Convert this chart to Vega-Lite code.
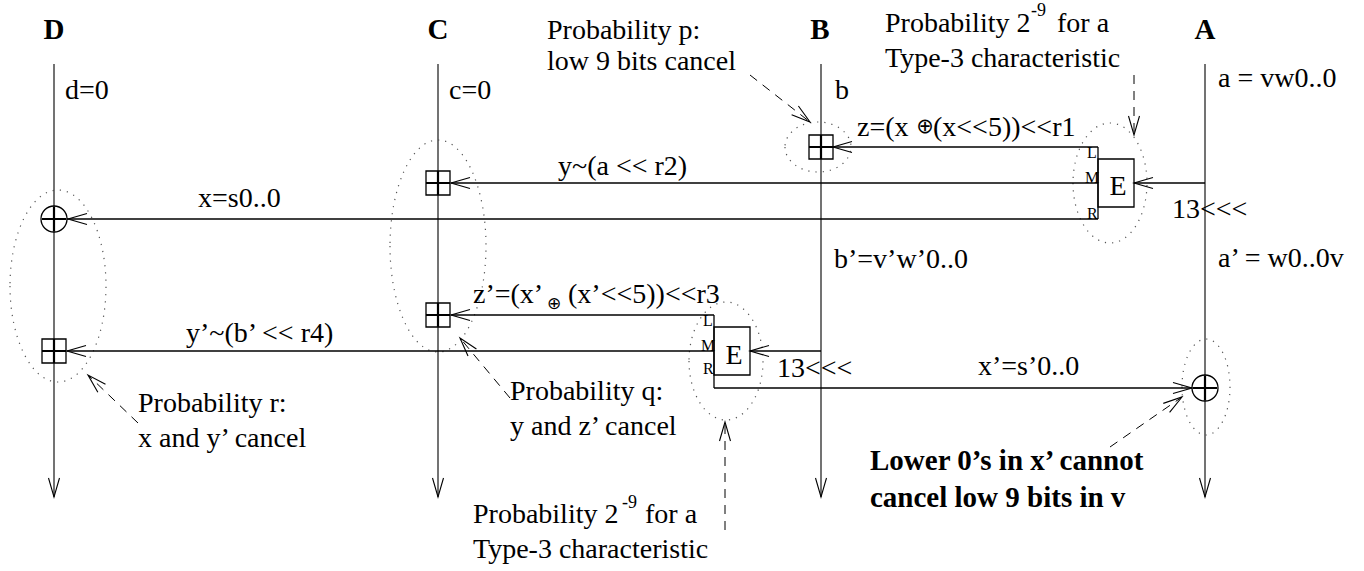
{
  "$schema": "https://vega.github.io/schema/vega-lite/v6.json",
  "width": 1364,
  "height": 571,
  "padding": 0,
  "autosize": {"type": "fit", "contains": "padding"},
  "background": "white",
  "config": {"view": {"stroke": null}},
  "resolve": {"scale": {"shape": "independent", "size": "independent", "angle": "independent"}},
  "datasets": {
    "columns": [
      {"col": "D", "x": 54, "y": 64, "y2": 497},
      {"col": "C", "x": 438, "y": 64, "y2": 497},
      {"col": "B", "x": 821, "y": 64, "y2": 497},
      {"col": "A", "x": 1205, "y": 64, "y2": 497}
    ],
    "wires": [
      {"id": "z", "x": 1098, "y": 147, "x2": 833, "y2": 147},
      {"id": "y", "x": 1098, "y": 183, "x2": 451, "y2": 183},
      {"id": "x", "x": 1098, "y": 219, "x2": 67, "y2": 219},
      {"id": "E1 side", "x": 1098, "y": 147, "x2": 1098, "y2": 219},
      {"id": "a in", "x": 1205, "y": 183, "x2": 1134, "y2": 183},
      {"id": "z'", "x": 714, "y": 315, "x2": 451, "y2": 315},
      {"id": "y'", "x": 714, "y": 351, "x2": 67, "y2": 351},
      {"id": "E2 side", "x": 714, "y": 315, "x2": 714, "y2": 388},
      {"id": "x'", "x": 714, "y": 388, "x2": 1192, "y2": 388},
      {"id": "b' in", "x": 821, "y": 351, "x2": 750, "y2": 351}
    ],
    "boxes": [
      {"box": "E upper", "x": 1098, "x2": 1134, "y": 159, "y2": 207},
      {"box": "E lower", "x": 714, "x2": 750, "y": 327, "y2": 375}
    ],
    "dashes": [
      {"note": "p", "x": 750, "y": 75, "x2": 810, "y2": 122},
      {"note": "2^-9 upper", "x": 1134, "y": 75, "x2": 1134, "y2": 135},
      {"note": "r", "x": 138, "y": 423, "x2": 88, "y2": 375},
      {"note": "q", "x": 510, "y": 398, "x2": 460, "y2": 338},
      {"note": "2^-9 lower", "x": 725, "y": 530, "x2": 725, "y2": 422},
      {"note": "lower 0s", "x": 1110, "y": 447, "x2": 1182, "y2": 397}
    ],
    "heads": [
      {"x": 833, "y": 147, "angle": 180},
      {"x": 451, "y": 183, "angle": 180},
      {"x": 68, "y": 219, "angle": 180},
      {"x": 1134, "y": 183, "angle": 180},
      {"x": 451, "y": 315, "angle": 180},
      {"x": 67, "y": 351, "angle": 180},
      {"x": 1192, "y": 388, "angle": 0},
      {"x": 750, "y": 351, "angle": 180},
      {"x": 54, "y": 497, "angle": 90},
      {"x": 438, "y": 497, "angle": 90},
      {"x": 821, "y": 497, "angle": 90},
      {"x": 1205, "y": 497, "angle": 90},
      {"x": 810, "y": 122, "angle": 38},
      {"x": 1134, "y": 135, "angle": 90},
      {"x": 88, "y": 375, "angle": 224},
      {"x": 460, "y": 338, "angle": 230},
      {"x": 725, "y": 422, "angle": 270},
      {"x": 1182, "y": 397, "angle": 325}
    ],
    "adders": [
      {"op": "add", "x": 821, "y": 147},
      {"op": "add", "x": 438, "y": 183},
      {"op": "add", "x": 438, "y": 315},
      {"op": "add", "x": 54, "y": 351},
      {"op": "xor", "x": 54, "y": 219},
      {"op": "xor", "x": 1205, "y": 388}
    ],
    "ellipses": [
      {"e": "eB", "x": 818, "y": 147},
      {"e": "eE1", "x": 1110, "y": 183},
      {"e": "eC", "x": 438, "y": 246},
      {"e": "eD", "x": 58, "y": 286},
      {"e": "eE2", "x": 726, "y": 361},
      {"e": "eA", "x": 1206, "y": 387}
    ],
    "labels": [
      {"x": 65, "y": 99, "t": "d=0"},
      {"x": 449, "y": 99, "t": "c=0"},
      {"x": 835, "y": 99, "t": "b"},
      {"x": 1218, "y": 87, "t": "a = vw0..0"},
      {"x": 547, "y": 39, "t": "Probability p:"},
      {"x": 547, "y": 70, "t": "low 9 bits cancel"},
      {"x": 885, "y": 32, "t": "Probability 2"},
      {"x": 1057, "y": 32, "t": "for a"},
      {"x": 885, "y": 67, "t": "Type-3 characteristic"},
      {"x": 857, "y": 136, "t": "z=(x"},
      {"x": 933, "y": 136, "t": "(x<<5))<<r1"},
      {"x": 558, "y": 175, "t": "y~(a << r2)"},
      {"x": 198, "y": 207, "t": "x=s0..0"},
      {"x": 1172, "y": 218, "t": "13<<<"},
      {"x": 1218, "y": 267, "t": "a’ = w0..0v"},
      {"x": 834, "y": 268, "t": "b’=v’w’0..0"},
      {"x": 473, "y": 303, "t": "z’=(x’"},
      {"x": 568, "y": 303, "t": "(x’<<5))<<r3"},
      {"x": 186, "y": 342, "t": "y’~(b’ << r4)"},
      {"x": 777, "y": 377, "t": "13<<<"},
      {"x": 978, "y": 375, "t": "x’=s’0..0"},
      {"x": 138, "y": 412, "t": "Probability r:"},
      {"x": 138, "y": 447, "t": "x and y’ cancel"},
      {"x": 510, "y": 400, "t": "Probability q:"},
      {"x": 510, "y": 435, "t": "y and z’ cancel"},
      {"x": 473, "y": 523, "t": "Probability 2"},
      {"x": 645, "y": 523, "t": "for a"},
      {"x": 473, "y": 558, "t": "Type-3 characteristic"}
    ],
    "boldnotes": [
      {"x": 870, "y": 470, "t": "Lower 0’s in x’ cannot"},
      {"x": 870, "y": 507, "t": "cancel low 9 bits in v"}
    ],
    "headers": [
      {"x": 54, "y": 39, "t": "D"},
      {"x": 438, "y": 39, "t": "C"},
      {"x": 820, "y": 39, "t": "B"},
      {"x": 1205, "y": 39, "t": "A"}
    ],
    "elabels": [
      {"x": 1118, "y": 195, "t": "E"},
      {"x": 734, "y": 364, "t": "E"}
    ],
    "ports": [
      {"x": 1087, "y": 158, "t": "L"},
      {"x": 1085, "y": 183, "t": "M"},
      {"x": 1087, "y": 219, "t": "R"},
      {"x": 703, "y": 326, "t": "L"},
      {"x": 701, "y": 351, "t": "M"},
      {"x": 703, "y": 374, "t": "R"}
    ],
    "sups": [
      {"x": 1031, "y": 16, "t": "-9"},
      {"x": 622, "y": 508, "t": "-9"}
    ],
    "oplus": [
      {"x": 925, "y": 127, "t": "⊕", "big": "upper"},
      {"x": 554, "y": 304, "t": "⊕", "big": "lower"}
    ]
  },
  "layer": [
    {
      "data": {"name": "ellipses"},
      "mark": {"type": "point", "filled": false, "size": 4, "opacity": 1, "stroke": "#555", "strokeWidth": 1.2, "strokeDash": [1.2, 6]},
      "encoding": {
        "x": {"field": "x", "type": "quantitative", "scale": {"domain": [0, 1364], "nice": false, "zero": false}, "axis": null},
        "y": {"field": "y", "type": "quantitative", "scale": {"domain": [571, 0], "nice": false, "zero": false}, "axis": null},
        "shape": {"field": "e", "type": "nominal", "legend": null, "scale": {
          "domain": ["eB", "eE1", "eC", "eD", "eE2", "eA"],
          "range": [
            "M-33,0A33,25 0 1,0 33,0A33,25 0 1,0 -33,0Z",
            "M-37,0A37,60 0 1,0 37,0A37,60 0 1,0 -37,0Z",
            "M-48,0A48,106 0 1,0 48,0A48,106 0 1,0 -48,0Z",
            "M-48,0A48,96 0 1,0 48,0A48,96 0 1,0 -48,0Z",
            "M-37,0A37,59 0 1,0 37,0A37,59 0 1,0 -37,0Z",
            "M-24,0A24,48 0 1,0 24,0A24,48 0 1,0 -24,0Z"
          ]}}
      }
    },
    {
      "data": {"name": "columns"},
      "mark": {"type": "rule", "color": "#444", "strokeWidth": 1.5},
      "encoding": {
        "x": {"field": "x", "type": "quantitative", "scale": {"domain": [0, 1364], "nice": false, "zero": false}, "axis": null},
        "y": {"field": "y", "type": "quantitative", "scale": {"domain": [571, 0], "nice": false, "zero": false}, "axis": null},
        "y2": {"field": "y2"}
      }
    },
    {
      "data": {"name": "wires"},
      "mark": {"type": "rule", "color": "black", "strokeWidth": 1.3},
      "encoding": {
        "x": {"field": "x", "type": "quantitative", "scale": {"domain": [0, 1364], "nice": false, "zero": false}, "axis": null},
        "y": {"field": "y", "type": "quantitative", "scale": {"domain": [571, 0], "nice": false, "zero": false}, "axis": null},
        "x2": {"field": "x2"},
        "y2": {"field": "y2"}
      }
    },
    {
      "data": {"name": "dashes"},
      "mark": {"type": "rule", "color": "black", "strokeWidth": 1, "strokeDash": [9, 7]},
      "encoding": {
        "x": {"field": "x", "type": "quantitative", "scale": {"domain": [0, 1364], "nice": false, "zero": false}, "axis": null},
        "y": {"field": "y", "type": "quantitative", "scale": {"domain": [571, 0], "nice": false, "zero": false}, "axis": null},
        "x2": {"field": "x2"},
        "y2": {"field": "y2"}
      }
    },
    {
      "data": {"name": "boxes"},
      "mark": {"type": "rect", "fill": "white", "fillOpacity": 0, "stroke": "black", "strokeWidth": 1.3},
      "encoding": {
        "x": {"field": "x", "type": "quantitative", "scale": {"domain": [0, 1364], "nice": false, "zero": false}, "axis": null},
        "y": {"field": "y", "type": "quantitative", "scale": {"domain": [571, 0], "nice": false, "zero": false}, "axis": null},
        "x2": {"field": "x2"},
        "y2": {"field": "y2"}
      }
    },
    {
      "data": {"name": "heads"},
      "mark": {"type": "point", "filled": false, "size": 4, "opacity": 1, "stroke": "black", "strokeWidth": 1.1, "shape": "M-19,-5.5L0,0L-19,5.5"},
      "encoding": {
        "x": {"field": "x", "type": "quantitative", "scale": {"domain": [0, 1364], "nice": false, "zero": false}, "axis": null},
        "y": {"field": "y", "type": "quantitative", "scale": {"domain": [571, 0], "nice": false, "zero": false}, "axis": null},
        "angle": {"field": "angle", "type": "quantitative", "scale": null}
      }
    },
    {
      "data": {"name": "adders"},
      "mark": {"type": "point", "filled": false, "size": 4, "opacity": 1, "stroke": "black", "strokeWidth": 1.3},
      "encoding": {
        "x": {"field": "x", "type": "quantitative", "scale": {"domain": [0, 1364], "nice": false, "zero": false}, "axis": null},
        "y": {"field": "y", "type": "quantitative", "scale": {"domain": [571, 0], "nice": false, "zero": false}, "axis": null},
        "shape": {"field": "op", "type": "nominal", "legend": null, "scale": {
          "domain": ["add", "xor"],
          "range": ["M-12,-12H12V12H-12Z", "M-13,0A13,13 0 1,0 13,0A13,13 0 1,0 -13,0Z"]}}
      }
    },
    {
      "data": {"name": "adders"},
      "mark": {"type": "point", "filled": false, "size": 4, "opacity": 1, "stroke": "black", "strokeWidth": 2.2, "shape": "M0,-12V12M-12,0H12"},
      "encoding": {
        "x": {"field": "x", "type": "quantitative", "scale": {"domain": [0, 1364], "nice": false, "zero": false}, "axis": null},
        "y": {"field": "y", "type": "quantitative", "scale": {"domain": [571, 0], "nice": false, "zero": false}, "axis": null}
      }
    },
    {
      "data": {"name": "labels"},
      "mark": {"type": "text", "align": "left", "baseline": "alphabetic", "font": "Liberation Serif", "fontSize": 28, "color": "black"},
      "encoding": {
        "x": {"field": "x", "type": "quantitative", "scale": {"domain": [0, 1364], "nice": false, "zero": false}, "axis": null},
        "y": {"field": "y", "type": "quantitative", "scale": {"domain": [571, 0], "nice": false, "zero": false}, "axis": null},
        "text": {"field": "t"}
      }
    },
    {
      "data": {"name": "boldnotes"},
      "mark": {"type": "text", "align": "left", "baseline": "alphabetic", "font": "Liberation Serif", "fontWeight": "bold", "fontSize": 29, "color": "black"},
      "encoding": {
        "x": {"field": "x", "type": "quantitative", "scale": {"domain": [0, 1364], "nice": false, "zero": false}, "axis": null},
        "y": {"field": "y", "type": "quantitative", "scale": {"domain": [571, 0], "nice": false, "zero": false}, "axis": null},
        "text": {"field": "t"}
      }
    },
    {
      "data": {"name": "headers"},
      "mark": {"type": "text", "align": "center", "baseline": "alphabetic", "font": "Liberation Serif", "fontWeight": "bold", "fontSize": 29, "color": "black"},
      "encoding": {
        "x": {"field": "x", "type": "quantitative", "scale": {"domain": [0, 1364], "nice": false, "zero": false}, "axis": null},
        "y": {"field": "y", "type": "quantitative", "scale": {"domain": [571, 0], "nice": false, "zero": false}, "axis": null},
        "text": {"field": "t"}
      }
    },
    {
      "data": {"name": "elabels"},
      "mark": {"type": "text", "align": "center", "baseline": "alphabetic", "font": "Liberation Serif", "fontSize": 28, "color": "black"},
      "encoding": {
        "x": {"field": "x", "type": "quantitative", "scale": {"domain": [0, 1364], "nice": false, "zero": false}, "axis": null},
        "y": {"field": "y", "type": "quantitative", "scale": {"domain": [571, 0], "nice": false, "zero": false}, "axis": null},
        "text": {"field": "t"}
      }
    },
    {
      "data": {"name": "ports"},
      "mark": {"type": "text", "align": "left", "baseline": "alphabetic", "font": "Liberation Serif", "fontSize": 16, "color": "black"},
      "encoding": {
        "x": {"field": "x", "type": "quantitative", "scale": {"domain": [0, 1364], "nice": false, "zero": false}, "axis": null},
        "y": {"field": "y", "type": "quantitative", "scale": {"domain": [571, 0], "nice": false, "zero": false}, "axis": null},
        "text": {"field": "t"}
      }
    },
    {
      "data": {"name": "sups"},
      "mark": {"type": "text", "align": "left", "baseline": "alphabetic", "font": "Liberation Serif", "fontSize": 18, "color": "black"},
      "encoding": {
        "x": {"field": "x", "type": "quantitative", "scale": {"domain": [0, 1364], "nice": false, "zero": false}, "axis": null},
        "y": {"field": "y", "type": "quantitative", "scale": {"domain": [571, 0], "nice": false, "zero": false}, "axis": null},
        "text": {"field": "t"}
      }
    },
    {
      "data": {"name": "oplus"},
      "mark": {"type": "text", "align": "center", "baseline": "middle", "font": "DejaVu Sans", "color": "black"},
      "encoding": {
        "x": {"field": "x", "type": "quantitative", "scale": {"domain": [0, 1364], "nice": false, "zero": false}, "axis": null},
        "y": {"field": "y", "type": "quantitative", "scale": {"domain": [571, 0], "nice": false, "zero": false}, "axis": null},
        "text": {"field": "t"},
        "size": {"field": "big", "type": "nominal", "legend": null, "scale": {"domain": ["upper", "lower"], "range": [21, 17]}}
      }
    }
  ]
}
